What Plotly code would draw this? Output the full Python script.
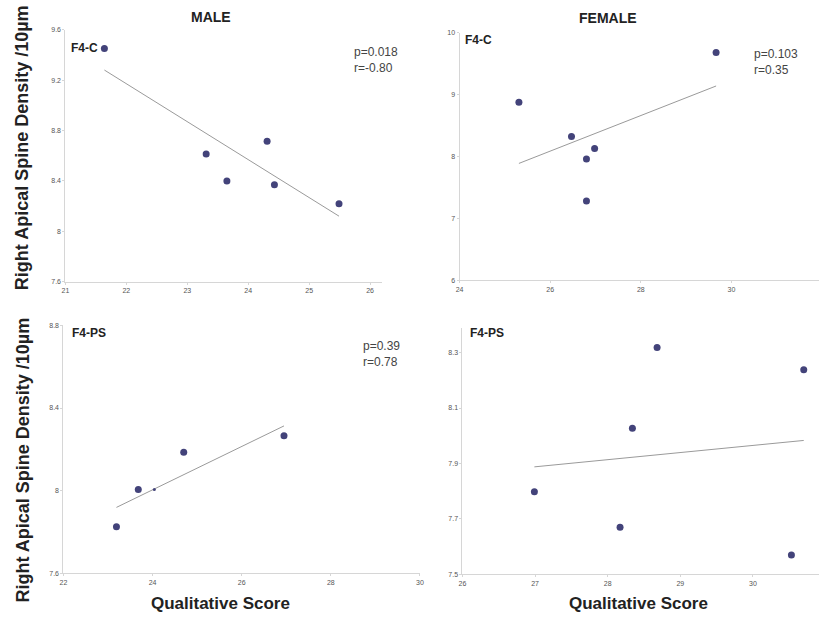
import numpy as np
import plotly.graph_objects as go

W, H = 823, 617

# ---- data ----
male_c_x = [21.64, 23.31, 23.65, 24.31, 24.43, 25.49]
male_c_y = [9.45, 8.613, 8.40, 8.715, 8.37, 8.22]

female_c_x = [29.66, 25.31, 26.47, 26.98, 26.80, 26.80]
female_c_y = [9.685, 8.88, 8.325, 8.13, 7.96, 7.28]

male_ps_x = [23.19, 23.68, 24.04, 24.70, 26.95]
male_ps_y = [7.826, 8.006, 8.006, 8.186, 8.266]
male_ps_sizes = [7, 7, 3, 7, 7]

female_ps_x = [28.68, 30.70, 28.34, 26.99, 28.17, 30.53]
female_ps_y = [8.319, 8.238, 8.027, 7.798, 7.669, 7.569]

male_c_stats = "p=0.018<br>r=-0.80"
female_c_stats = "p=0.103<br>r=0.35"
male_ps_stats = "p=0.39<br>r=0.78"

ticks_tl_x = [21, 22, 23, 24, 25, 26]
ticks_tl_y = [7.6, 8, 8.4, 8.8, 9.2, 9.6]
ticks_tr_x = [24, 26, 28, 30, 32]
ticks_tr_y = [6, 7, 8, 9, 10]
ticks_bl_x = [22, 24, 26, 28, 30]
ticks_bl_y = [7.6, 8, 8.4, 8.8]
ticks_br_x = [26, 27, 28, 29, 30]
ticks_br_y = [7.5, 7.7, 7.9, 8.1, 8.3]

MARKER = "#43437a"
LINE = "#9a9a9a"
AXIS = "#d6d6d6"
TICKFONT = dict(family="Liberation Sans, Arial", size=7, color="#555555")
BOLD = "Liberation Sans, Arial"


def px_x(p):
    return p / W


def px_y(p):
    return 1 - p / H


fig = go.Figure()

panels = [
    (male_c_x, male_c_y, 7, "", (62, 382), (281, 26), [21, 26.2], [7.6, 9.6], ticks_tl_x, ticks_tl_y),
    (female_c_x, female_c_y, 7, "2", (460, 823), (279.3, 29.3), [24, 31.93], [6, 10], ticks_tr_x, ticks_tr_y),
    (male_ps_x, male_ps_y, male_ps_sizes, "3", (60, 420), (576, 325), [22, 30], [7.6, 8.8], ticks_bl_x, ticks_bl_y),
    (female_ps_x, female_ps_y, 7, "4", (463, 823), (576.7, 328), [26, 30.91], [7.5, 8.388], ticks_br_x, ticks_br_y),
]

for xs, ys, sizes, ax, xd, yd, xr, yr, xt, yt in panels:
    xa = "x" + ax
    ya = "y" + ax
    slope, intercept = np.polyfit(xs, ys, 1)
    lx = np.array([min(xs), max(xs)])
    fig.add_trace(go.Scatter(x=lx, y=slope * lx + intercept, mode="lines",
                             line=dict(color=LINE, width=1),
                             xaxis=xa, yaxis=ya, showlegend=False, hoverinfo="skip"))
    fig.add_trace(go.Scatter(x=xs, y=ys, mode="markers",
                             marker=dict(color=MARKER, size=sizes, opacity=1, line=dict(width=0)),
                             xaxis=xa, yaxis=ya, showlegend=False))
    xkey = "xaxis" + ax
    ykey = "yaxis" + ax
    fig.update_layout({
        xkey: dict(domain=[px_x(xd[0]), px_x(xd[1])], range=xr, anchor=ya,
                   showline=True, linecolor=AXIS, linewidth=1, showgrid=False, zeroline=False,
                   tickmode="array", tickvals=xt, ticks="outside", ticklen=2, tickcolor=AXIS,
                   tickfont=TICKFONT),
        ykey: dict(domain=[px_y(yd[0]), px_y(yd[1])], range=yr, anchor=xa,
                   showline=True, linecolor=AXIS, linewidth=1, showgrid=False, zeroline=False,
                   tickmode="array", tickvals=yt, ticks="outside", ticklen=2, tickcolor=AXIS,
                   tickfont=TICKFONT),
    })

ann = []


def text(x, y, t, size, bold=False, align="center", xanchor="center", color="#222222", angle=0):
    ann.append(dict(x=px_x(x), y=px_y(y), xref="paper", yref="paper", text=("<b>%s</b>" % t) if bold else t,
                    showarrow=False, xanchor=xanchor, yanchor="middle", align=align, textangle=angle,
                    font=dict(family=BOLD, size=size, color=color)))


text(209, 13, "MALE", 14, bold=True)
text(610, 14, "FEMALE", 14, bold=True)
text(19, 145, "Right Apical Spine Density /10µm", 18, bold=True, angle=-90)
text(19, 461, "Right Apical Spine Density /10µm", 18, bold=True, angle=-90)
text(219, 606, "Qualitative Score", 17, bold=True)
text(641, 606, "Qualitative Score", 17, bold=True)

text(66, 45, "F4-C", 12, bold=True, xanchor="left")
text(464, 36, "F4-C", 12, bold=True, xanchor="left")
text(67, 333, "F4-PS", 12, bold=True, xanchor="left")
text(469, 333, "F4-PS", 12, bold=True, xanchor="left")

text(351, 57, male_c_stats, 12, align="left", xanchor="left", color="#444444")
text(755, 59, female_c_stats, 12, align="left", xanchor="left", color="#444444")
text(360, 354, male_ps_stats, 12, align="left", xanchor="left", color="#444444")

fig.update_layout(
    width=W, height=H, margin=dict(l=0, r=0, t=0, b=0),
    paper_bgcolor="white", plot_bgcolor="white",
    annotations=ann, showlegend=False,
)

fig.write_html("out.html", config={"displayModeBar": False},
               post_script="document.body.style.margin='0';document.body.style.overflow='hidden';")
